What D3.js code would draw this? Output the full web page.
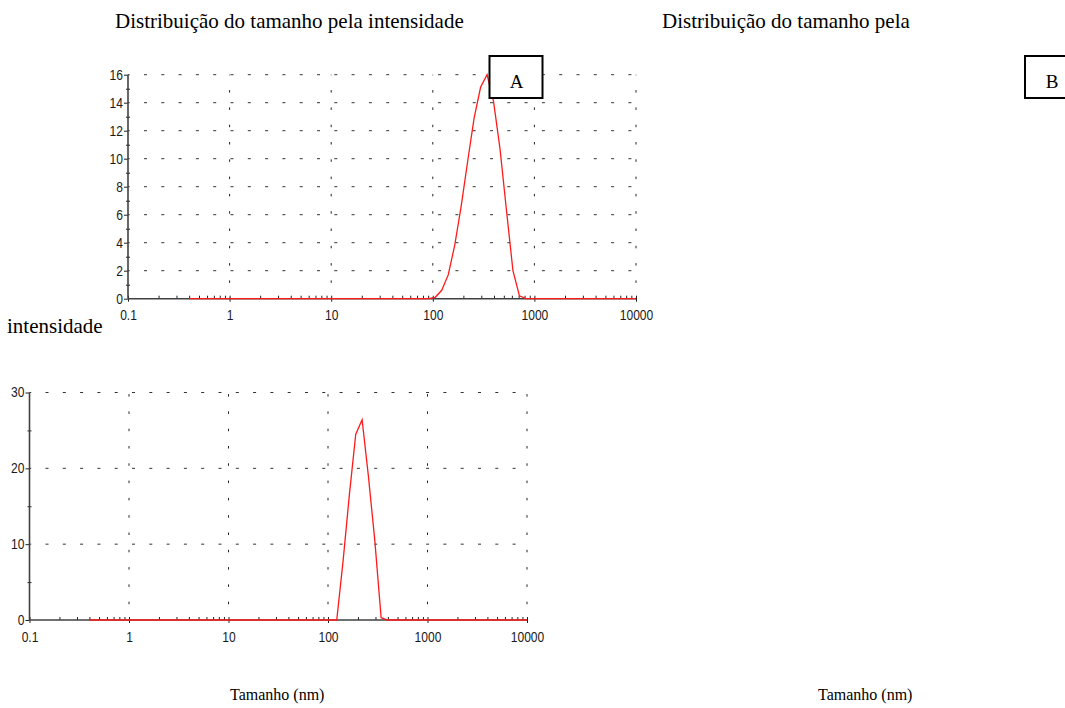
<!DOCTYPE html>
<html>
<head>
<meta charset="utf-8">
<script src="https://cdn.jsdelivr.net/npm/d3@7"></script>
<style>
  body { margin: 0; background: #fff; }
  .doc { font-family: "Liberation Serif", "Times New Roman", serif; fill: #000; }
  .tick-label { font-family: "Liberation Sans", Arial, sans-serif; font-size: 14px; fill: #1a1a1a; }
</style>
</head>
<body>
<script>
// size bins (nm) of the instrument
const sizes = [0.4, 0.4632, 0.5365, 0.6213, 0.7195, 0.8332, 0.9649, 1.117, 1.294, 1.499,
  1.736, 2.010, 2.328, 2.696, 3.122, 3.615, 4.187, 4.849, 5.615, 6.503,
  7.531, 8.721, 10.10, 11.70, 13.54, 15.69, 18.17, 21.04, 24.36, 28.21,
  32.67, 37.84, 43.82, 50.75, 58.77, 68.06, 78.82, 91.28, 105.7, 122.4,
  141.8, 164.2, 190.1, 220.2, 255.0, 295.3, 342.0, 396.1, 458.7, 531.2,
  615.1, 712.4, 825.0, 955.4, 1106, 1281, 1484, 1718, 1990, 2305,
  2669, 3091, 3580, 4145, 4801, 5560, 6439, 7456, 8635, 10000];

// intensity (%) - sample A
const intensityA = [0, 0, 0, 0, 0, 0, 0, 0, 0, 0,
  0, 0, 0, 0, 0, 0, 0, 0, 0, 0,
  0, 0, 0, 0, 0, 0, 0, 0, 0, 0,
  0, 0, 0, 0, 0, 0, 0, 0, 0.1, 0.6,
  1.7, 3.8, 6.6, 9.8, 12.9, 15.1, 16.0, 14.1, 10.7, 6.3,
  2.0, 0.2, 0, 0, 0, 0, 0, 0, 0, 0,
  0, 0, 0, 0, 0, 0, 0, 0, 0, 0];

// intensity (%) - sample B
const intensityB = [0, 0, 0, 0, 0, 0, 0, 0, 0, 0,
  0, 0, 0, 0, 0, 0, 0, 0, 0, 0,
  0, 0, 0, 0, 0, 0, 0, 0, 0, 0,
  0, 0, 0, 0, 0, 0, 0, 0, 0, 0,
  7.8, 16.6, 24.5, 26.4, 18.9, 10.5, 0.3, 0, 0, 0,
  0, 0, 0, 0, 0, 0, 0, 0, 0, 0,
  0, 0, 0, 0, 0, 0, 0, 0, 0, 0];

const xDecades = [0.1, 1, 10, 100, 1000, 10000];
const xTickLabels = ["0.1", "1", "10", "100", "1000", "10000"];
const yTicksA = [0, 2, 4, 6, 8, 10, 12, 14, 16];
const yTicksB = [0, 10, 20, 30];

const width = 1065, height = 708;

var svg = d3.select("body").append("svg")
  .attr("width", width)
  .attr("height", height)

// minor ticks 2..9 for each decade
let xMinor = [];
xDecades.slice(0, -1).forEach(d => {
  for (let k = 2; k <= 9; k++) xMinor.push(d * k);
});

function drawPanel(cfg) {
  let x = d3.scaleLog().domain([0.1, 10000]).range([cfg.left, cfg.right]);
  let y = d3.scaleLinear().domain([0, cfg.ymax]).range([cfg.bottom, cfg.top]);
  let g = svg.append("g");

  // horizontal dotted grid
  g.selectAll("line.hgrid")
    .data(cfg.yTicks.filter(d => d > 0))
    .enter().append("line")
    .attr("class", "hgrid")
    .attr("x1", x(0.1)).attr("x2", x(10000))
    .attr("y1", d => y(d)).attr("y2", d => y(d))
    .attr("stroke", "#333")
    .attr("stroke-width", 1)
    .attr("stroke-dasharray", "3 14.3")
    .attr("stroke-dashoffset", 1.3);

  // vertical dotted grid
  g.selectAll("line.vgrid")
    .data(xDecades.slice(1))
    .enter().append("line")
    .attr("class", "vgrid")
    .attr("x1", d => x(d)).attr("x2", d => x(d))
    .attr("y1", y(0)).attr("y2", y(cfg.ymax))
    .attr("stroke", "#222")
    .attr("stroke-width", 1)
    .attr("stroke-dasharray", "2.5 14.8")
    .attr("stroke-dashoffset", 1.5);

  // x axis: line + ticks
  g.append("g")
    .attr("transform", `translate(0, ${y(0)})`)
    .call(d3.axisTop(x).tickValues(xMinor).tickSize(3).tickFormat(""))
    .call(a => a.select(".domain").remove());
  let xa = g.append("g")
    .attr("transform", `translate(0, ${y(0)})`)
    .call(d3.axisBottom(x).tickValues(xDecades).tickSize(3).tickPadding(cfg.xPad)
      .tickFormat((d, i) => xTickLabels[i]));
  xa.select(".domain").remove();
  xa.selectAll(".tick line").attr("y1", -3);
  g.append("line")
    .attr("x1", x(0.1)).attr("x2", x(10000))
    .attr("y1", y(0)).attr("y2", y(0))
    .attr("stroke", "#404040").attr("stroke-width", 1.6);

  // y axis
  let minorY = d3.range(cfg.yStep / 2, cfg.ymax, cfg.yStep);
  g.append("g")
    .attr("transform", `translate(${x(0.1)}, 0)`)
    .call(d3.axisLeft(y).tickValues(minorY).tickSize(2).tickFormat(""))
    .call(a => a.select(".domain").remove())
    .selectAll(".tick line").attr("x2", 2).attr("x1", -2);
  let ya = g.append("g")
    .attr("transform", `translate(${x(0.1)}, 0)`)
    .call(d3.axisLeft(y).tickValues(cfg.yTicks).tickSize(4).tickPadding(1));
  ya.select(".domain").remove();
  g.append("line")
    .attr("x1", x(0.1)).attr("x2", x(0.1))
    .attr("y1", y(0)).attr("y2", y(cfg.ymax))
    .attr("stroke", "#404040").attr("stroke-width", 1.6);

  g.selectAll(".tick line").attr("stroke", "#222");
  g.selectAll(".tick text")
    .attr("class", "tick-label")
    .attr("font-family", null).attr("font-size", null)
    .each(function() {
      let w = this.getComputedTextLength();
      d3.select(this).attr("textLength", w * 0.86).attr("lengthAdjust", "spacingAndGlyphs");
    });

  // distribution curve
  let line = d3.line()
    .x((d, i) => x(sizes[i]))
    .y(d => y(d));
  g.append("path")
    .datum(cfg.values)
    .attr("d", line)
    .attr("fill", "none")
    .attr("stroke", "#ff1a1a")
    .attr("stroke-width", 1.3);
  return g;
}

drawPanel({ left: 128, right: 636, top: 74.7, bottom: 298.7, ymax: 16, yTicks: yTicksA, yStep: 2,
  values: intensityA, xPad: 8 });
drawPanel({ left: 29.5, right: 527, top: 392.5, bottom: 620, ymax: 30, yTicks: yTicksB, yStep: 10,
  values: intensityB, xPad: 9 });

// document text
const docText = [
  { t: "Distribuição do tamanho pela intensidade", x: 115, y: 28, s: 21 },
  { t: "Distribuição do tamanho pela", x: 662, y: 28, s: 21 },
  { t: "intensidade", x: 7, y: 333, s: 21 },
  { t: "Tamanho (nm)", x: 230, y: 700, s: 16 },
  { t: "Tamanho (nm)", x: 818, y: 700, s: 16 }
];
svg.selectAll("text.doc")
  .data(docText)
  .enter().append("text")
  .attr("class", "doc")
  .attr("x", d => d.x)
  .attr("y", d => d.y)
  .attr("font-size", d => d.s)
  .text(d => d.t);

// panel letters in boxes
const boxes = [
  { t: "A", x: 489.5, y: 56, w: 53, h: 42 },
  { t: "B", x: 1025, y: 56, w: 50, h: 42 }
];
let bx = svg.selectAll("g.box").data(boxes).enter().append("g").attr("class", "box");
bx.append("rect")
  .attr("x", d => d.x).attr("y", d => d.y)
  .attr("width", d => d.w).attr("height", d => d.h)
  .attr("fill", "#fff").attr("stroke", "#000").attr("stroke-width", 2);
bx.append("text")
  .attr("class", "doc")
  .attr("x", d => d.x + 27).attr("y", d => d.y + 32)
  .attr("text-anchor", "middle")
  .attr("font-size", 19)
  .text(d => d.t);
</script>
</body>
</html>
